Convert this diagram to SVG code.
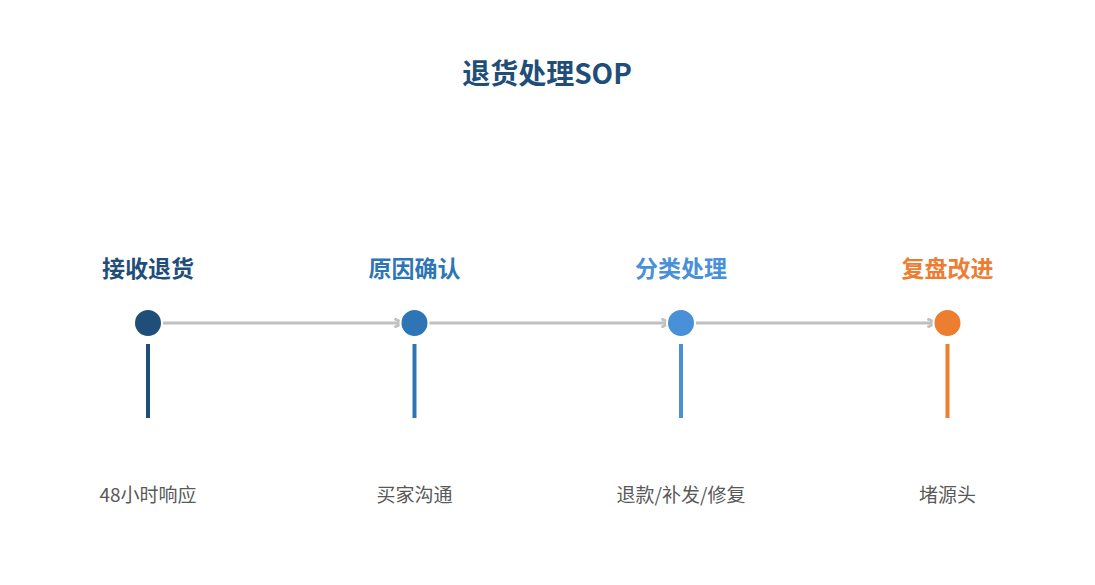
<svg xmlns="http://www.w3.org/2000/svg" width="1095" height="585" viewBox="0 0 1095 585">
<defs>
<style>
.title{font-family:"Noto Sans CJK SC","Noto Sans",sans-serif;font-weight:700;font-size:28px;fill:#1F4E79;text-anchor:middle}
.head{font-family:"Noto Sans CJK SC","Noto Sans",sans-serif;font-weight:700;font-size:23px;text-anchor:middle}
.desc{font-family:"Noto Sans CJK SC","Noto Sans",sans-serif;font-size:19px;fill:#595959;text-anchor:middle}
.conn{stroke:#C0C0C0;stroke-width:3;fill:none;marker-end:url(#arr)}
.dot{stroke:#FFFFFF;stroke-width:2}
.stem{stroke-width:4}
</style>
<marker id="arr" viewBox="0 0 10 10" refX="8" refY="5" markerWidth="3.6" markerHeight="3.6" orient="auto" markerUnits="strokeWidth">
<path d="M1,1 L9,5 L1,9" fill="none" stroke="#C0C0C0" stroke-width="2.5"/>
</marker>
</defs>
<rect width="1095" height="585" fill="#FFFFFF"/>
<text class="title" x="547" y="84">退货处理SOP</text>
<g id="connectors">
<line class="conn" x1="150" y1="323" x2="402" y2="323"/>
<line class="conn" x1="416" y1="323" x2="669" y2="323"/>
<line class="conn" x1="683" y1="323" x2="935" y2="323"/>
</g>
<g id="node1">
<text class="head" x="148" y="277" fill="#1F4E79">接收退货</text>
<circle class="dot" cx="148" cy="323" r="14" fill="#1F4E79"/>
<line class="stem" x1="148" y1="344" x2="148" y2="418" stroke="#1F4E79"/>
<text class="desc" x="148" y="502">48小时响应</text>
</g>
<g id="node2">
<text class="head" x="414.5" y="277" fill="#2E75B6">原因确认</text>
<circle class="dot" cx="414.5" cy="323" r="14" fill="#2E75B6"/>
<line class="stem" x1="414.5" y1="344" x2="414.5" y2="418" stroke="#2E75B6"/>
<text class="desc" x="414.5" y="502">买家沟通</text>
</g>
<g id="node3">
<text class="head" x="681" y="277" fill="#4A90D9">分类处理</text>
<circle class="dot" cx="681" cy="323" r="14" fill="#4A90D9"/>
<line class="stem" x1="681" y1="344" x2="681" y2="418" stroke="#4A90D9"/>
<text class="desc" x="681" y="502">退款/补发/修复</text>
</g>
<g id="node4">
<text class="head" x="947.5" y="277" fill="#ED7D31">复盘改进</text>
<circle class="dot" cx="947.5" cy="323" r="14" fill="#ED7D31"/>
<line class="stem" x1="947.5" y1="344" x2="947.5" y2="418" stroke="#ED7D31"/>
<text class="desc" x="947.5" y="502">堵源头</text>
</g>
</svg>
